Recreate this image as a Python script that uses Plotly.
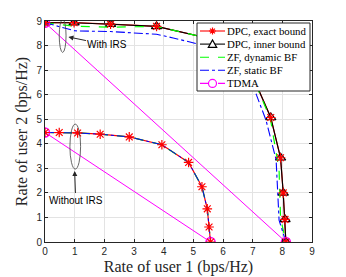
import plotly.graph_objects as go

# With IRS
irs_dpc_x = [0, 0.98, 2.21, 3.76, 5.5, 6.8, 7.61, 7.94, 8.03, 8.09, 8.12]
irs_dpc_y = [8.93, 8.93, 8.87, 8.78, 8.3, 7.3, 5.07, 3.43, 2.0, 0.92, 0]
irs_zfd_x = [0, 1.0, 2.2, 3.76, 5.5, 6.8, 7.6, 7.89, 7.94, 8.12]
irs_zfd_y = [8.93, 8.79, 8.75, 8.78, 8.3, 7.3, 5.0, 2.93, 0.97, 0]
irs_zfs_x = [0, 0.5, 1.0, 2.2, 3.76, 4.32, 5.2, 6.3, 7.02, 7.13, 7.45, 7.79, 7.89, 8.12]
irs_zfs_y = [8.93, 8.75, 8.6, 8.57, 8.46, 8.31, 8.05, 7.3, 6.38, 5.98, 4.96, 3.35, 0.89, 0]
irs_tdma_x = [0, 8.12]
irs_tdma_y = [8.93, 0]

# Without IRS
no_dpc_x = [0, 0.48, 1.10, 1.86, 2.84, 3.94, 4.84, 5.29, 5.47, 5.53, 5.58]
no_dpc_y = [4.46, 4.46, 4.44, 4.39, 4.28, 3.96, 3.24, 2.25, 1.35, 0.61, 0]
no_tdma_x = [0, 5.58]
no_tdma_y = [4.46, 0]

x_ticks = [0, 1, 2, 3, 4, 5, 6, 7, 8, 9]
y_ticks = [0, 1, 2, 3, 4, 5, 6, 7, 8, 9]

legend_names = ["DPC, exact bound", "DPC, inner bound", "ZF, dynamic BF", "ZF, static BF", "TDMA"]
legend_colors = ["red", "black", "#00ff00", "blue", "magenta"]
legend_dash = ["solid", "solid", "dash", "dashdot", "dashdot"]

ML, MR, MT, MB = 45, 34, 21, 35
FW, FH = 346, 277
PW, PH = FW - ML - MR, FH - MT - MB


def px(xp):
    return (xp - ML) / PW


def py(yp):
    return (FH - MB - yp) / PH


star = dict(symbol="asterisk-open", size=8, color="red", line=dict(color="red", width=1.2))
tri = dict(symbol="triangle-up-open", size=9, color="black", line=dict(color="black", width=1.2))
circ = dict(symbol="circle-open", size=9, color="magenta", line=dict(color="magenta", width=1.5))

fig = go.Figure()
fig.add_trace(go.Scatter(x=irs_dpc_x, y=irs_dpc_y, mode="lines", line=dict(color="red", width=1.2)))
fig.add_trace(go.Scatter(x=irs_dpc_x, y=irs_dpc_y, mode="lines+markers",
                         line=dict(color="black", width=1.1), marker=tri))
fig.add_trace(go.Scatter(x=irs_zfd_x, y=irs_zfd_y, mode="lines",
                         line=dict(color="#00ff00", width=1.2, dash="dash")))
fig.add_trace(go.Scatter(x=irs_zfs_x, y=irs_zfs_y, mode="lines",
                         line=dict(color="blue", width=1.1, dash="dashdot")))
fig.add_trace(go.Scatter(x=irs_tdma_x, y=irs_tdma_y, mode="lines+markers",
                         line=dict(color="magenta", width=1), marker=circ))
fig.add_trace(go.Scatter(x=irs_dpc_x, y=irs_dpc_y, mode="markers", marker=star))

fig.add_trace(go.Scatter(x=no_dpc_x, y=no_dpc_y, mode="lines", line=dict(color="red", width=1.2)))
fig.add_trace(go.Scatter(x=no_dpc_x, y=no_dpc_y, mode="lines",
                         line=dict(color="#00ff00", width=1.2, dash="dash")))
fig.add_trace(go.Scatter(x=no_dpc_x, y=no_dpc_y, mode="lines",
                         line=dict(color="blue", width=1, dash="dashdot")))
fig.add_trace(go.Scatter(x=no_tdma_x, y=no_tdma_y, mode="lines+markers",
                         line=dict(color="magenta", width=1), marker=circ))
fig.add_trace(go.Scatter(x=no_dpc_x, y=no_dpc_y, mode="markers", marker=star))

axis_common = dict(range=[0, 9], showgrid=True, gridcolor="#e3e3e3", gridwidth=1,
                   showline=True, linecolor="#262626", linewidth=1, mirror="ticks",
                   ticks="inside", ticklen=3, tickcolor="#262626", zeroline=False,
                   automargin=False, fixedrange=True,
                   tickfont=dict(family="Liberation Sans", size=10, color="#262626"))

fig.update_layout(
    width=FW, height=FH,
    margin=dict(l=ML, r=MR, t=MT, b=MB, autoexpand=False),
    paper_bgcolor="white", plot_bgcolor="white",
    showlegend=False,
    xaxis=dict(**axis_common, tickvals=x_ticks,
               title=dict(text="Rate of user 1 (bps/Hz)", standoff=4,
                          font=dict(family="Liberation Serif", size=16, color="#262626"))),
    yaxis=dict(**axis_common, tickvals=y_ticks,
               title=dict(text="Rate of user 2 (bps/Hz)", standoff=4,
                          font=dict(family="Liberation Serif", size=16, color="#262626"))),
)

# Ellipses
fig.add_shape(type="circle", xref="x", yref="y", x0=0.48, x1=0.71, y0=7.72, y1=9.07,
              line=dict(color="#404040", width=0.8))
fig.add_shape(type="circle", xref="x", yref="y", x0=0.84, x1=1.20, y0=2.97, y1=4.80,
              line=dict(color="#404040", width=0.8))

fig.add_annotation(x=0.79, y=8.35, xref="x", yref="y", text="With IRS", showarrow=True,
                   ax=39, ay=8, arrowhead=2, arrowsize=1, arrowwidth=1, arrowcolor="#262626",
                   font=dict(family="Liberation Sans", size=10, color="black"))
fig.add_annotation(x=1.0, y=2.89, xref="x", yref="y", text="Without IRS", showarrow=True,
                   ax=1, ay=29, arrowhead=2, arrowsize=1, arrowwidth=1, arrowcolor="#262626",
                   font=dict(family="Liberation Sans", size=10, color="black"))

# Custom compact legend (MATLAB style)
LX0, LX1, LY0, LY1 = 197, 310, 23, 91
fig.add_shape(type="rect", xref="paper", yref="paper", x0=px(LX0), x1=px(LX1), y0=py(LY1), y1=py(LY0),
              fillcolor="white", line=dict(color="#262626", width=1), layer="above")
row_y0, row_dy = 31, 13.1
sx0, sx1 = 200, 225
mx = (sx0 + sx1) / 2
for i, (name, col, dsh) in enumerate(zip(legend_names, legend_colors, legend_dash)):
    yy = row_y0 + i * row_dy
    fig.add_shape(type="line", xref="paper", yref="paper", x0=px(sx0), x1=px(sx1), y0=py(yy), y1=py(yy),
                  line=dict(color=col, width=1.1, dash=dsh), layer="above")
    fig.add_annotation(x=px(225), y=py(yy), xref="paper", yref="paper", text=name, showarrow=False,
                       xanchor="left", yanchor="middle",
                       font=dict(family="Liberation Serif", size=10.8, color="black"))
# legend marker glyphs
yy = row_y0
r = 3.5
star_path = (f"M {px(mx - r)} {py(yy)} L {px(mx + r)} {py(yy)} "
             f"M {px(mx)} {py(yy - r)} L {px(mx)} {py(yy + r)} "
             f"M {px(mx - r * 0.7)} {py(yy - r * 0.7)} L {px(mx + r * 0.7)} {py(yy + r * 0.7)} "
             f"M {px(mx - r * 0.7)} {py(yy + r * 0.7)} L {px(mx + r * 0.7)} {py(yy - r * 0.7)}")
fig.add_shape(type="path", xref="paper", yref="paper", path=star_path,
              line=dict(color="red", width=1.2), layer="above")
yy = row_y0 + row_dy
tri_path = (f"M {px(mx - 4.2)} {py(yy + 3.3)} L {px(mx + 4.2)} {py(yy + 3.3)} "
            f"L {px(mx)} {py(yy - 4.2)} Z")
fig.add_shape(type="path", xref="paper", yref="paper", path=tri_path,
              fillcolor="white", line=dict(color="black", width=1.2), layer="above")
yy = row_y0 + 4 * row_dy
fig.add_shape(type="circle", xref="paper", yref="paper", x0=px(mx - 4), x1=px(mx + 4),
              y0=py(yy + 4), y1=py(yy - 4), fillcolor="white",
              line=dict(color="magenta", width=1.2), layer="above")

fig.write_html("out.html", config={"displayModeBar": False},
               post_script="document.body.style.margin='0';document.body.style.overflow='hidden';")
